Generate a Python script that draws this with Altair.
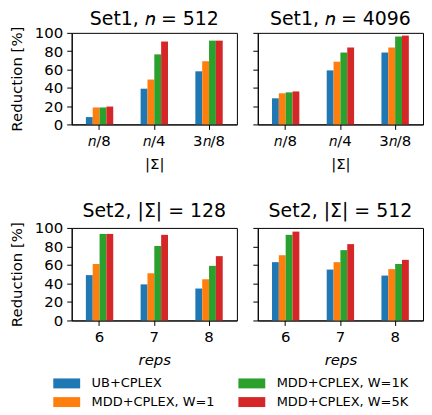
import altair as alt
import pandas as pd

methods = ["UB+CPLEX", "MDD+CPLEX, W=1", "MDD+CPLEX, W=1K", "MDD+CPLEX, W=5K"]
colors = ["#1f77b4", "#ff7f0e", "#2ca02c", "#d62728"]

set1_groups = ["\U0001D45B/8", "\U0001D45B/4", "3\U0001D45B/8"]
set2_groups = ["6", "7", "8"]

# Set1, n = 512
s1_512_ub = [8, 39, 58]
s1_512_w1 = [18.5, 49, 69]
s1_512_w1k = [18.5, 76.5, 91.5]
s1_512_w5k = [19.5, 90.5, 91.5]
# Set1, n = 4096
s1_4096_ub = [28.5, 59, 78.5]
s1_4096_w1 = [34, 68.5, 84]
s1_4096_w1k = [35, 78.5, 96]
s1_4096_w5k = [36, 84, 97]
# Set2, |Sigma| = 128
s2_128_ub = [49, 39, 34.5]
s2_128_w1 = [61, 51, 44.5]
s2_128_w1k = [93.5, 80.5, 59]
s2_128_w5k = [93.5, 92.5, 69.5]
# Set2, |Sigma| = 512
s2_512_ub = [63, 55, 48.5]
s2_512_w1 = [70.5, 63, 55.5]
s2_512_w1k = [92.5, 76, 61]
s2_512_w5k = [96, 82.5, 65.5]

y_ticks = [0, 20, 40, 60, 80, 100]
FONT = "DejaVu Sans"

legend = alt.Legend(
    orient="none", legendX=-11.5, legendY=345.5, columns=2, direction="vertical",
    title=None,
    symbolType="M-2.7,-1L2.7,-1L2.7,1L-2.7,1Z", symbolSize=100,
    symbolStrokeWidth=0, symbolOpacity=1, labelFontSize=13, labelFont=FONT,
    labelColor="black", labelOffset=18.5, labelLimit=300, columnPadding=23,
    rowPadding=5, padding=0,
)


def panel(groups, series, title, xtitle, italic, show_y, height, toff):
    rows = []
    for m, vals in zip(methods, series):
        for g, v in zip(groups, vals):
            rows.append({"group": g, "method": m, "value": v})
    df = pd.DataFrame(rows)
    y_axis = alt.Axis(
        values=y_ticks, title="Reduction [%]" if show_y else None,
        labels=show_y, grid=False, tickSize=5, labelPadding=4,
        titlePadding=10, labelFontSize=15, titleFontSize=15,
    )
    return alt.Chart(df).mark_bar().encode(
        x=alt.X("group:N", sort=groups,
                scale=alt.Scale(paddingInner=0.5, paddingOuter=0.259),
                axis=alt.Axis(title=xtitle, labelAngle=0, grid=False,
                              tickSize=5, labelPadding=4, titlePadding=8,
                              labelFontSize=15, titleFontSize=15,
                              titleFontStyle="italic" if italic else "normal")),
        xOffset=alt.XOffset("method:N", sort=methods,
                            scale=alt.Scale(paddingInner=0, paddingOuter=0)),
        y=alt.Y("value:Q", scale=alt.Scale(domain=[0, 100], nice=False),
                axis=y_axis),
        color=alt.Color("method:N",
                        scale=alt.Scale(domain=methods, range=colors),
                        legend=legend),
    ).properties(
        width=166, height=height,
        title=alt.TitleParams(title, fontSize=19, font=FONT, fontWeight="normal",
                              baseline="alphabetic", offset=toff, frame="group",
                              color="black"),
    )


tl = panel(set1_groups, [s1_512_ub, s1_512_w1, s1_512_w1k, s1_512_w5k],
           "Set1, \U0001D45B = 512", "|Σ|", False, True, 92, -18.5)
tr = panel(set1_groups, [s1_4096_ub, s1_4096_w1, s1_4096_w1k, s1_4096_w5k],
           "Set1, \U0001D45B = 4096", "|Σ|", False, False, 92, -11.5)
bl = panel(set2_groups, [s2_128_ub, s2_128_w1, s2_128_w1k, s2_128_w5k],
           "Set2, |Σ| = 128", "reps", True, True, 93, -15.5)
br = panel(set2_groups, [s2_512_ub, s2_512_w1, s2_512_w1k, s2_512_w5k],
           "Set2, |Σ| = 512", "reps", True, False, 93, -8.5)

chart = alt.concat(
    tl, tr, bl, br, columns=2,
    spacing=alt.RowColnumber(row=104, column=21), bounds="flush",
).properties(padding=0).configure_view(
    stroke="black", strokeWidth=1
).configure_axis(
    labelFont=FONT, titleFont=FONT, labelFontSize=15, titleFontSize=15,
    labelColor="black", titleColor="black", tickColor="black",
    domainColor="black", titleFontWeight="normal", tickWidth=1, domainWidth=1,
)

chart.save("out.html", embed_options={"renderer": "svg", "actions": False})
